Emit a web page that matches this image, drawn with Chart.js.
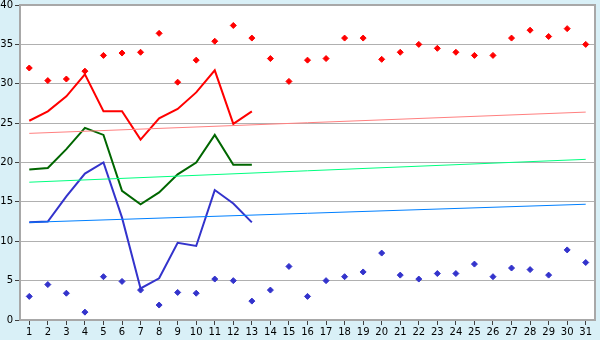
<!DOCTYPE html>
<html>
<head>
<meta charset="utf-8">
<script src="https://cdn.jsdelivr.net/npm/chart.js@4"></script>
<style>
  html, body { margin: 0; padding: 0; background: #d9f0f7; }
  #wrap { width: 600px; height: 340px; }
</style>
</head>
<body>
<div id="wrap"><canvas id="chart" width="600" height="340"></canvas></div>
<script>
// categories (days)
let days = [];
for (let d = 1; d <= 31; d++) days.push(String(d));

// upper scatter points (red)
let redPoints = [32.0, 30.4, 30.6, 31.6, 33.6, 33.9, 34.0, 36.4, 30.2, 33.0,
                 35.4, 37.4, 35.8, 33.2, 30.3, 33.0, 33.2, 35.8, 35.8, 33.1,
                 34.0, 35.0, 34.5, 34.0, 33.6, 33.6, 35.8, 36.8, 36.0, 37.0, 35.0];
// lower scatter points (blue)
let bluePoints = [3.0, 4.5, 3.4, 1.0, 5.5, 4.9, 3.8, 1.9, 3.5, 3.4,
                  5.2, 5.0, 2.4, 3.8, 6.8, 3.0, 5.0, 5.5, 6.1, 8.5,
                  5.7, 5.2, 5.9, 5.9, 7.1, 5.5, 6.6, 6.4, 5.7, 8.9, 7.3];

// lines for days 1..13
let redLine = [25.3, 26.5, 28.4, 31.2, 26.5, 26.5, 22.9, 25.6, 26.8, 28.9, 31.7, 24.9, 26.5];
let greenLine = [19.1, 19.3, 21.7, 24.4, 23.5, 16.4, 14.7, 16.2, 18.5, 20.0, 23.5, 19.7, 19.7];
let blueLine = [12.4, 12.5, 15.7, 18.6, 20.0, 13.0, 4.0, 5.3, 9.8, 9.4, 16.5, 14.8, 12.4];

// trend lines: value at day 1 and day 31
let redTrend = [23.7, 26.4];
let greenTrend = [17.5, 20.4];
let blueTrend = [12.4, 14.7];

function ends(pair) {
    let arr = days.map(() => null);
    arr[0] = pair[0];
    arr[days.length - 1] = pair[1];
    return arr;
}

let bgPlugin = {
    id: 'bg',
    beforeDraw(chart) {
        let c = chart.ctx;
        let a = chart.chartArea;
        c.save();
        c.fillStyle = '#d9f0f7';
        c.fillRect(0, 0, chart.width, chart.height);
        c.fillStyle = '#ffffff';
        c.fillRect(a.left, a.top, a.right - a.left, a.bottom - a.top);
        c.restore();
    },
    afterDraw(chart) {
        let c = chart.ctx;
        let a = chart.chartArea;
        c.save();
        c.strokeStyle = '#a8a8a8';
        c.lineWidth = 2;
        c.beginPath();
        c.moveTo(a.left, a.top);
        c.lineTo(a.right, a.top);
        c.lineTo(a.right, a.bottom);
        c.stroke();
        c.restore();
    }
};

function scatterSet(data, color) {
    return {
        data: data,
        showLine: false,
        pointStyle: 'rectRot',
        pointRadius: 3,
        pointBackgroundColor: color,
        pointBorderColor: color,
        pointBorderWidth: 1,
        borderColor: color
    };
}

function lineSet(data, color, width) {
    return {
        data: data,
        borderColor: color,
        borderWidth: width,
        pointRadius: 0,
        tension: 0,
        spanGaps: true
    };
}

let ctx = document.getElementById('chart').getContext('2d');
new Chart(ctx, {
    type: 'line',
    data: {
        labels: days,
        datasets: [
            lineSet(ends(redTrend), '#ff8080', 1),
            lineSet(ends(greenTrend), '#00ff80', 1),
            lineSet(ends(blueTrend), '#0080ff', 1),
            lineSet(redLine, '#ff0000', 2),
            lineSet(greenLine, '#006600', 2),
            lineSet(blueLine, '#3333cc', 2),
            scatterSet(redPoints, '#ff0000'),
            scatterSet(bluePoints, '#3333cc')
        ]
    },
    options: {
        responsive: false,
        animation: false,
        layout: { padding: { top: 0, right: 5, left: 0, bottom: 0 } },
        plugins: {
            legend: { display: false },
            tooltip: { enabled: false }
        },
        scales: {
            x: {
                offset: true,
                afterFit: function (scale) { scale.height = 20; },
                grid: {
                    drawOnChartArea: false,
                    color: '#a8a8a8',
                    tickLength: 5,
                    tickColor: '#404040'
                },
                border: { color: '#a8a8a8', width: 2 },
                ticks: {
                    color: '#000',
                    padding: 1,
                    maxRotation: 0,
                    autoSkip: false,
                    font: { family: 'DejaVu Sans', size: 10 }
                }
            },
            y: {
                min: 0,
                max: 40,
                afterFit: function (scale) {
                    scale.width = 20;
                    scale.paddingTop = 5;
                },
                grid: {
                    color: '#b0b0b0',
                    tickLength: 5,
                    tickColor: '#404040'
                },
                border: { color: '#a8a8a8', width: 2 },
                ticks: {
                    stepSize: 5,
                    color: '#000',
                    padding: 2,
                    font: { family: 'DejaVu Sans', size: 10 }
                }
            }
        }
    },
    plugins: [bgPlugin]
});
</script>
</body>
</html>
